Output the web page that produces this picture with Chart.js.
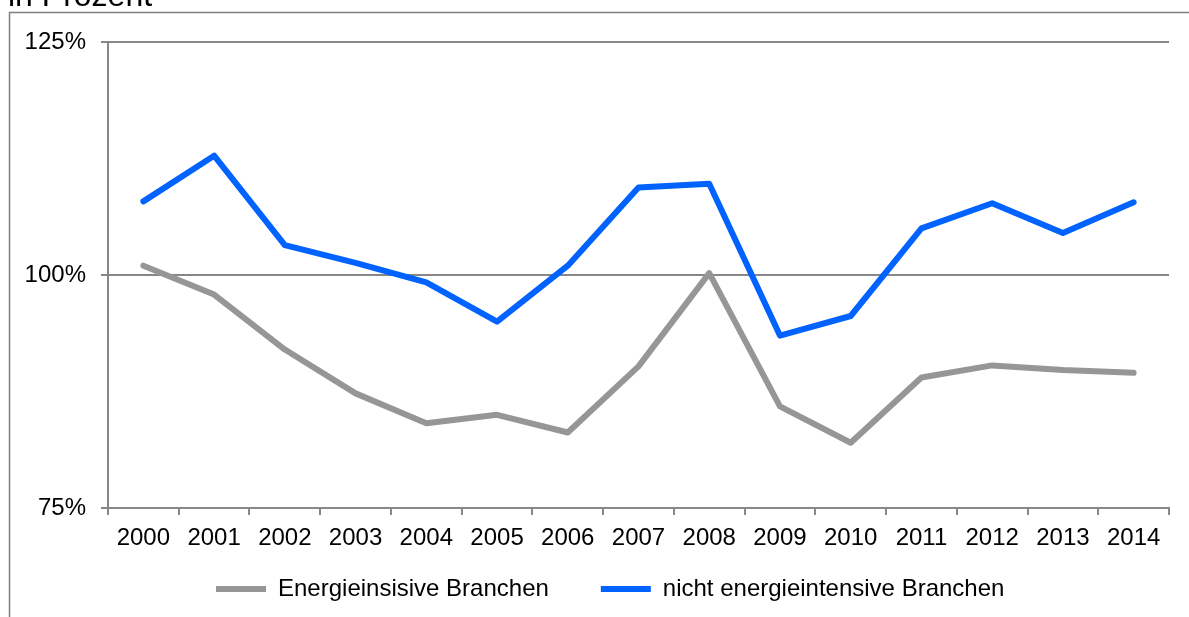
<!DOCTYPE html>
<html>
<head>
<meta charset="utf-8">
<script src="https://cdn.jsdelivr.net/npm/chart.js@4"></script>
<style>
html,body{margin:0;padding:0;background:#fff;}
#wrap{width:1189px;height:617px;position:relative;}
</style>
</head>
<body>
<div id="wrap"><canvas id="c"></canvas></div>
<script>
const years = ['2000','2001','2002','2003','2004','2005','2006','2007','2008','2009','2010','2011','2012','2013','2014'];
const energieintensiv = [101.0, 97.9, 92.0, 87.3, 84.1, 85.0, 83.1, 90.2, 100.2, 85.9, 82.0, 89.0, 90.3, 89.8, 89.5];
const nichtEnergieintensiv = [107.9, 112.8, 103.2, 101.3, 99.2, 95.0, 101.0, 109.4, 109.8, 93.5, 95.6, 105.0, 107.7, 104.5, 107.8];
const seriesLabels = ['Energieinsisive Branchen', 'nicht energieintensive Branchen'];
const yTicks = [75, 100, 125];
const unitTitle = 'in Prozent';

const FONT = 'Liberation Sans, Arial, sans-serif';
const AXIS = '#878787';
const LEGEND_PAD = 52;

const framePlugin = {
  id: 'frame',
  afterLayout(chart) {
    const lg = chart.legend;
    if (!lg) return;
    // place legend row: item centre at y=589, first item starting at x=215
    const targetTop = 589 - LEGEND_PAD - 12;
    lg.top = targetTop;
    lg.bottom = chart.height;
    lg.height = lg.bottom - lg.top;
    const lw = lg.lineWidths ? lg.lineWidths[0] : 0;
    const start = (lg.left + LEGEND_PAD + lg.right - lw) / 2;
    const dx = 216 - start;
    lg.left += dx; lg.right += dx;
  },
  beforeDraw(chart) {
    const ctx = chart.ctx;
    ctx.save();
    ctx.fillStyle = '#ffffff';
    ctx.fillRect(0, 0, chart.width, chart.height);
    ctx.strokeStyle = '#7f7f7f';
    ctx.lineWidth = 1.5;
    ctx.beginPath();
    ctx.moveTo(9.5, chart.height + 5);
    ctx.lineTo(9.5, 12.5);
    ctx.lineTo(chart.width + 5, 12.5);
    ctx.stroke();
    ctx.fillStyle = '#000';
    ctx.font = '32px ' + FONT;
    ctx.textBaseline = 'alphabetic';
    ctx.fillText(unitTitle, 8, 6);
    ctx.restore();
  }
};

new Chart(document.getElementById('c'), {
  type: 'line',
  data: {
    labels: years,
    datasets: [
      {
        label: seriesLabels[0],
        data: energieintensiv,
        borderColor: '#969696',
        backgroundColor: '#969696',
        borderWidth: 6,
        pointRadius: 0,
        borderCapStyle: 'round',
        borderJoinStyle: 'round',
        tension: 0
      },
      {
        label: seriesLabels[1],
        data: nichtEnergieintensiv,
        borderColor: '#0062ff',
        backgroundColor: '#0062ff',
        borderWidth: 6,
        pointRadius: 0,
        borderCapStyle: 'round',
        borderJoinStyle: 'round',
        tension: 0
      }
    ]
  },
  options: {
    responsive: true,
    maintainAspectRatio: false,
    animation: false,
    devicePixelRatio: 1,
    layout: { padding: { top: 42, left: 0, right: 20, bottom: 0 } },
    plugins: {
      tooltip: { enabled: false },
      title: { display: false },
      legend: {
        display: true,
        position: 'bottom',
        maxHeight: 59,
        labels: {
          usePointStyle: true,
          pointStyle: 'line',
          pointStyleWidth: 50,
          padding: LEGEND_PAD,
          color: '#000',
          font: { family: FONT, size: 24 }
        }
      }
    },
    scales: {
      x: {
        type: 'category',
        offset: true,
        afterFit(scale) { scale.height = 50; },
        grid: {
          offset: true,
          drawOnChartArea: false,
          drawTicks: true,
          tickLength: 7,
          color: AXIS,
          lineWidth: 2
        },
        border: { display: true, color: AXIS, width: 2 },
        ticks: {
          color: '#000',
          font: { family: FONT, size: 24 },
          padding: 9,
          maxRotation: 0,
          autoSkip: false
        }
      },
      y: {
        min: 75,
        max: 125,
        afterFit(scale) { scale.width = 108; },
        afterBuildTicks(scale) { scale.ticks = yTicks.map(v => ({ value: v })); },
        grid: {
          drawTicks: true,
          tickLength: 7,
          color: AXIS,
          lineWidth: 2
        },
        border: { display: true, color: AXIS, width: 2 },
        ticks: {
          color: '#000',
          font: { family: FONT, size: 24 },
          padding: 15,
          callback: v => v + '%'
        }
      }
    }
  },
  plugins: [framePlugin]
});
</script>
</body>
</html>
